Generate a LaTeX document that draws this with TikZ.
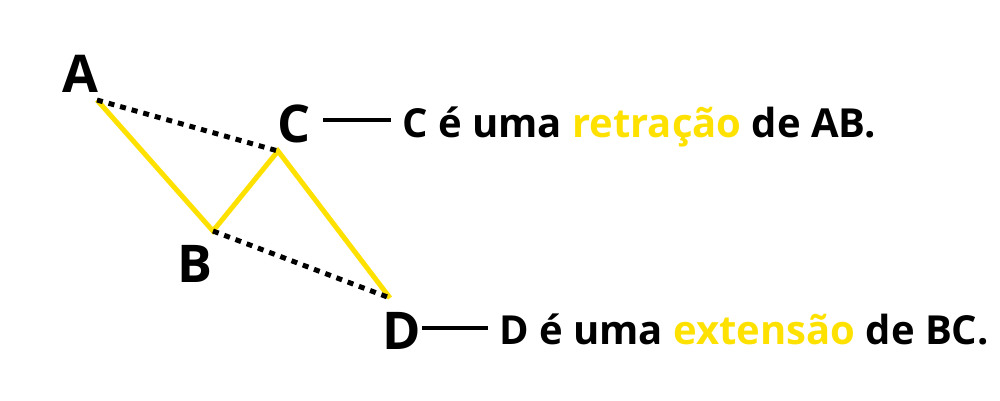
\documentclass[tikz,border=0pt]{standalone}
\usepackage{fontspec}
\setmainfont{Open Sans}[BoldFont={* Bold}]
\definecolor{gold}{HTML}{FFE100}
\begin{document}
\begin{tikzpicture}[x=1pt,y=-1pt,
  bigletter/.style={font=\fontsize{52}{52}\selectfont\bfseries, inner sep=0pt, anchor=base},
  caption/.style={font=\fontsize{40}{40}\selectfont\bfseries, inner sep=0pt, anchor=base west},
  wave/.style={draw=gold, line width=5pt, line join=miter},
  dots/.style={draw=black, line width=5pt, dash pattern=on 6pt off 6pt},
  tick/.style={draw=black, line width=4.5pt}]
\useasboundingbox (0,0) rectangle (1000,400);
\coordinate (pA) at (97,100);
\coordinate (pB) at (213,231);
\coordinate (pC) at (278,151);
\coordinate (pD) at (390,298);
\path[wave] (pA) -- (pB) -- (pC) -- (pD);
\path[dots] (pA) -- (pC);
\path[dots] (pB) -- (pD);
\node[bigletter] (lA) at (80,92) {A};
\node[bigletter] (lB) at (195,282) {B};
\node[bigletter] (lC) at (294,142) {C};
\node[bigletter] (lD) at (402,349) {D};
\coordinate (c1) at (323,120);
\coordinate (c2) at (391,120);
\coordinate (d1) at (422,328);
\coordinate (d2) at (488,328);
\path[tick] (c1) -- (c2);
\path[tick] (d1) -- (d2);
\node[caption] (tC) at (402,137) {C é uma \textcolor{gold}{retração} de AB.};
\node[caption] (tD) at (499,344) {D é uma \textcolor{gold}{extensão} de BC.};
\end{tikzpicture}
\end{document}
